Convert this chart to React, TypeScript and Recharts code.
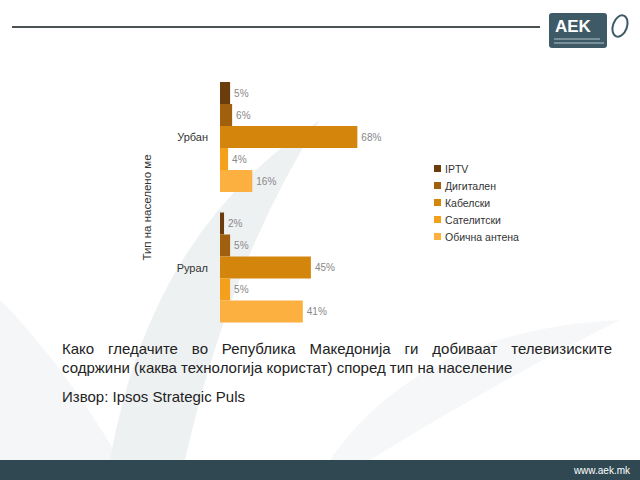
import { BarChart, Bar, XAxis, YAxis, LabelList, Label } from "recharts";

const categories = ["Урбан", "Рурал"];
const seriesNames = ["IPTV", "Дигитален", "Кабелски", "Сателитски", "Обична антена"];
const seriesKeys = ["iptv", "digital", "cable", "satellite", "antenna"];
const seriesColors = ["#6b3d0c", "#a0600e", "#d4860c", "#f5a01a", "#fbb040"];

const iptv = [5, 2];
const digital = [6, 5];
const cable = [68, 45];
const satellite = [4, 5];
const antenna = [16, 41];

const seriesValues = [iptv, digital, cable, satellite, antenna];

const data = categories.map((name, i) => {
  const row: Record<string, string | number> = { name };
  seriesKeys.forEach((k, s) => {
    row[k] = seriesValues[s][i];
  });
  return row;
});

const FONT = "'Liberation Sans', Arial, sans-serif";

function Background() {
  return (
    <svg
      width={640}
      height={480}
      style={{ position: "absolute", left: 0, top: 0 }}
    >
      <path d="M 0 300 Q 60 360 120 460 L 0 460 Z" fill="#f4f6f7" />
      <path d="M 110 460 Q 150 230 320 120 Q 230 260 185 460 Z" fill="#eef1f2" />
      <path d="M 330 460 Q 420 330 620 320 Q 500 380 370 460 Z" fill="#f5f7f8" />
      <line x1={12} y1={27} x2={540} y2={27} stroke="#4a5254" strokeWidth={2} />
      <rect x={549} y={13} width={58} height={35} rx={3} fill="#3d5a66" />
      <text x={555} y={32} fill="#ffffff" fontSize={17} fontFamily={FONT} fontWeight="bold">
        AEK
      </text>
      <line x1={554} y1={39} x2={600} y2={39} stroke="#b8c6cc" strokeWidth={1} />
      <line x1={554} y1={43} x2={604} y2={43} stroke="#b8c6cc" strokeWidth={1} />
      <ellipse cx={620} cy={26} rx={7} ry={11} fill="none" stroke="#3d5a66" strokeWidth={2} transform="rotate(20 620 26)" />
      <rect x={0} y={460} width={640} height={20} fill="#2f4852" />
      <text x={630} y={474} textAnchor="end" fill="#ffffff" fontSize={10} fontFamily={FONT}>
        www.aek.mk
      </text>
    </svg>
  );
}

function LegendBox() {
  return (
    <div
      style={{
        position: "absolute",
        left: 434,
        top: 160,
        fontFamily: FONT,
        fontSize: 10.5,
        color: "#333",
      }}
    >
      {seriesNames.map((n, i) => (
        <div key={n} style={{ display: "flex", alignItems: "center", height: 17 }}>
          <span
            style={{
              width: 7,
              height: 7,
              background: seriesColors[i],
              marginRight: 4,
              display: "inline-block",
            }}
          />
          {n}
        </div>
      ))}
    </div>
  );
}

function AxisTitle(props: any) {
  const vb = props.viewBox || { x: 0, y: 0, width: 0, height: 0 };
  const x = vb.x + 11;
  const y = vb.y + vb.height / 2 + 5;
  return (
    <text
      x={x}
      y={y}
      transform={`rotate(-90 ${x} ${y})`}
      textAnchor="middle"
      fontSize={11.5}
      fill="#333"
      fontFamily={FONT}
    >
      Тип на населено ме
    </text>
  );
}

export default function App() {
  return (
    <div
      style={{
        position: "fixed",
        left: 0,
        top: 0,
        width: 640,
        height: 480,
        background: "#ffffff",
        overflow: "hidden",
        fontFamily: FONT,
      }}
    >
      <Background />
      <div style={{ position: "absolute", left: 0, top: 0 }}>
        <BarChart
          width={640}
          height={360}
          data={data}
          layout="vertical"
          margin={{ top: 72, right: 218, bottom: 27, left: 140 }}
          barCategoryGap={10}
          barGap={0}
        >
          <XAxis type="number" domain={[0, 100]} hide />
          <YAxis
            type="category"
            dataKey="name"
            width={80}
            axisLine={false}
            tickLine={false}
            tickSize={10}
            tick={{ fontSize: 11, fill: "#333", fontFamily: FONT }}
          >
            <Label content={<AxisTitle />} />
          </YAxis>
          {seriesKeys.map((k, i) => (
            <Bar
              key={k}
              dataKey={k}
              name={seriesNames[i]}
              fill={seriesColors[i]}
              isAnimationActive={false}
            >
              <LabelList
                dataKey={k}
                position="right"
                offset={4}
                formatter={(v: number) => `${v}%`}
                style={{ fontSize: 10, fill: "#888", fontFamily: FONT }}
              />
            </Bar>
          ))}
        </BarChart>
      </div>
      <LegendBox />
      <div
        style={{
          position: "absolute",
          left: 62,
          top: 339,
          width: 550,
          fontSize: 15,
          lineHeight: "19px",
          color: "#222",
          textAlign: "justify",
        }}
      >
        Како гледачите во Република Македонија ги добиваат телевизиските содржини (каква технологија користат) според тип на население
      </div>
      <div
        style={{
          position: "absolute",
          left: 62,
          top: 387,
          fontSize: 15,
          lineHeight: "19px",
          color: "#222",
        }}
      >
        Извор: Ipsos Strategic Puls
      </div>
    </div>
  );
}
